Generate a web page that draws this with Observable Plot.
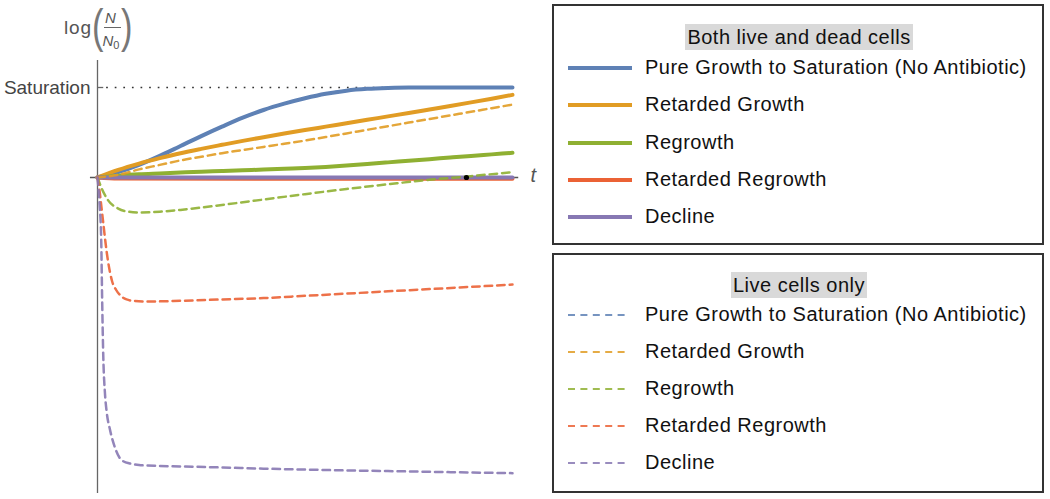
<!DOCTYPE html>
<html><head><meta charset="utf-8">
<script src="https://cdn.jsdelivr.net/npm/d3@7"></script>
<script src="https://cdn.jsdelivr.net/npm/@observablehq/plot@0.6"></script>
<style>
body{margin:0;background:#fff;font-family:"Liberation Sans",Arial,sans-serif;}
#wrap{position:relative;width:1050px;height:499px;overflow:hidden;background:#fff;}
#chart{position:absolute;left:0;top:0;}
.box{position:absolute;left:552px;width:492px;box-sizing:border-box;border:2px solid #333;}
.ttl{position:absolute;left:599px;width:400px;text-align:center;font-size:20px;letter-spacing:0.5px;color:#111;}
.ttl span{display:inline-block;background:#d9d9d9;line-height:26px;padding:0 2px;}
.row{position:absolute;left:560px;width:480px;height:24px;}
.row .lab{position:absolute;left:85px;top:0;font-size:20px;line-height:24px;letter-spacing:0.5px;color:#111;white-space:nowrap;}
.row svg{position:absolute;left:8px;top:0;}
.ylab{position:absolute;color:#555;line-height:1;white-space:nowrap;}
</style>
</head><body>
<div id="wrap">
  <div id="chart"></div>
</div>
<script>
// ---------------- data ----------------
const seriesNames = ["Pure Growth to Saturation (No Antibiotic)", "Retarded Growth", "Regrowth", "Retarded Regrowth", "Decline"];
const seriesColors = ["#5E81B5", "#E19C24", "#8FB032", "#EB6235", "#8778B3"];
const legendTitles = ["Both live and dead cells", "Live cells only"];

// time grid for growth curves
const tGrowth = [0,0.5,1,1.5,2,2.5,3,3.5,4,4.5,5,5.5,6,6.5,7,7.5,8,8.5,9,9.5,10];

// Both live and dead cells (solid)
const pureGrowthAll     = [0,0.06,0.14,0.24,0.35,0.46,0.565,0.665,0.75,0.82,0.88,0.93,0.965,0.985,0.995,1,1,1,1,1,1];
const retardedGrowthAll = [0,0.085,0.155,0.215,0.27,0.318,0.363,0.407,0.448,0.488,0.527,0.565,0.603,0.641,0.679,0.717,0.756,0.795,0.835,0.876,0.918];
const regrowthAll       = [0,0.02,0.035,0.045,0.055,0.065,0.072,0.08,0.088,0.097,0.106,0.118,0.133,0.15,0.168,0.186,0.204,0.222,0.24,0.257,0.274];
const tFlat = [0, 0.5, 10];
const retardedRegrowthAll = [0, -0.012, -0.014];
const declineAll          = [0, 0, 0];

// Live cells only (dashed)
const pureGrowthLive     = [0,0.06,0.14,0.24,0.35,0.46,0.565,0.665,0.75,0.82,0.88,0.93,0.965,0.985,0.995,1,1,1,1,1,1];
const retardedGrowthLive = [0,0.03,0.09,0.14,0.19,0.23,0.27,0.305,0.34,0.375,0.41,0.45,0.49,0.53,0.57,0.61,0.65,0.69,0.73,0.77,0.81];
const tRegrowthLive = [0,0.1,0.25,0.5,0.75,1,1.5,2,3,4,5,6,7,8,9,10];
const regrowthLive  = [0,-0.12,-0.25,-0.345,-0.38,-0.388,-0.38,-0.36,-0.305,-0.245,-0.185,-0.128,-0.075,-0.025,0.015,0.06];
const tRetRegrowthLive = [0,0.05,0.1,0.15,0.2,0.25,0.3,0.35,0.45,0.55,0.7,0.9,1.2,2,3,4,5,6,7,8,9,10];
const retardedRegrowthLive = [0,-0.15,-0.35,-0.55,-0.75,-0.92,-1.05,-1.15,-1.25,-1.31,-1.355,-1.372,-1.378,-1.37,-1.355,-1.34,-1.315,-1.29,-1.265,-1.24,-1.215,-1.19];
const tDeclineLive = [0,0.05,0.09,0.11,0.14,0.18,0.22,0.3,0.42,0.58,0.8,1,1.5,2,3,4,5,6,7,8,9,10];
const declineLive  = [0,-0.3,-0.7,-1.3,-2.0,-2.4,-2.6,-2.8,-3.0,-3.14,-3.18,-3.195,-3.205,-3.21,-3.222,-3.235,-3.245,-3.255,-3.262,-3.27,-3.278,-3.285];

// annotations
const saturationLevel = 1;
const markerPoint = [{t: 8.89, y: 0}];
const tLabel = [{t: 10.5, y: 0, text: "t"}];
const xAxisExtent = [-0.17, 10.15];
const yAxisExtent = [-3.51, 1.3];

// ---------------- build ----------------
const toRows = (ts, ys) => ts.map((t, i) => ({t, y: ys[i]}));
const solidSets = [
  toRows(tGrowth, pureGrowthAll),
  toRows(tGrowth, retardedGrowthAll),
  toRows(tGrowth, regrowthAll),
  toRows(tFlat, retardedRegrowthAll),
  toRows(tFlat, declineAll)
];
const dashedSets = [
  toRows(tGrowth, pureGrowthLive),
  toRows(tGrowth, retardedGrowthLive),
  toRows(tRegrowthLive, regrowthLive),
  toRows(tRetRegrowthLive, retardedRegrowthLive),
  toRows(tDeclineLive, declineLive)
];
const DASH = "7.5,5";

const marks = [
  Plot.ruleY([0], {x1: xAxisExtent[0], x2: xAxisExtent[1], stroke: "#555", strokeWidth: 1.3}),
  Plot.ruleX([0], {y1: yAxisExtent[0], y2: yAxisExtent[1], stroke: "#666", strokeWidth: 1.3}),
  Plot.ruleY([saturationLevel], {x1: 0, x2: 0.15, stroke: "#666", strokeWidth: 1.3}),
  Plot.ruleY([saturationLevel], {x1: 0.22, x2: 10, stroke: "#333", strokeWidth: 1.7, strokeDasharray: "1.7,6.9"}),
  Plot.text([saturationLevel], {x: 0, y: d => d, text: () => "Saturation", textAnchor: "end", dx: -7, fontSize: 19, fill: "#444"}),
  // hidden live-cell pure growth first (under the solid)
  Plot.line(dashedSets[0], {x: "t", y: "y", stroke: seriesColors[0], strokeWidth: 2.5, strokeDasharray: DASH, curve: "monotone-x"})
];
solidSets.forEach((d, i) => marks.push(
  Plot.line(d, {x: "t", y: "y", stroke: seriesColors[i], strokeWidth: 4, curve: "monotone-x"})
));
dashedSets.slice(1).forEach((d, i) => marks.push(
  Plot.line(d, {x: "t", y: "y", stroke: seriesColors[i + 1], strokeWidth: 2.5, strokeDasharray: DASH, curve: "monotone-x", strokeOpacity: 0.9})
));
marks.push(
  Plot.dot(markerPoint, {x: "t", y: "y", r: 2.6, fill: "#000", stroke: null}),
  Plot.text(tLabel, {x: "t", y: "y", text: "text", fontSize: 20, fontStyle: "italic", fill: "#555", dy: -2})
);

const chart = Plot.plot({
  width: 550, height: 499,
  marginLeft: 97, marginRight: 38, marginTop: 87, marginBottom: 7,
  x: {domain: [0, 10], axis: null},
  y: {domain: [-3.5, 1], axis: null},
  style: {fontFamily: "Liberation Sans, Arial, sans-serif", fontSize: "19px", color: "#444", background: "transparent", overflow: "visible"},
  marks
});
document.getElementById("chart").appendChild(chart);

// ---------------- y label: log(N/N0) ----------------
const wrap = document.getElementById("wrap");
function addLab(html, left, top, style) {
  const s = document.createElement("span");
  s.className = "ylab";
  s.innerHTML = html;
  s.style.left = left + "px"; s.style.top = top + "px";
  Object.assign(s.style, style || {});
  wrap.appendChild(s);
}
addLab("log", 64, 18, {fontSize: "19px", letterSpacing: "0.8px"});
addLab("(", 92, 3, {fontSize: "46px", color: "#777", transform: "scaleX(0.75)", transformOrigin: "left top"});
addLab(")", 121, 3, {fontSize: "46px", color: "#777", transform: "scaleX(0.75)", transformOrigin: "left top"});
addLab("N", 105, 10, {fontSize: "15px", fontStyle: "italic"});
addLab("", 103.5, 26.5, {width: "17px", height: "0", borderTop: "1px solid #666"});
addLab("N<span style='font-size:11px;font-style:normal;position:relative;top:3px'>0</span>", 102.5, 33, {fontSize: "15px", fontStyle: "italic"});

// ---------------- legends ----------------
const boxTops = [[4, 241], [253, 240]];
const titleTops = [24, 272];
const rowStarts = [68.3, 315];
const ROWSTEP = 37.1;
boxTops.forEach(([top, h], b) => {
  const box = document.createElement("div");
  box.className = "box";
  box.style.top = top + "px"; box.style.height = h + "px";
  wrap.appendChild(box);
  const t = document.createElement("div");
  t.className = "ttl";
  t.style.top = titleTops[b] + "px";
  t.innerHTML = "<span>" + legendTitles[b] + "</span>";
  wrap.appendChild(t);
  seriesNames.forEach((name, i) => {
    const lineY = rowStarts[b] + i * ROWSTEP;
    const row = document.createElement("div");
    row.className = "row";
    row.style.top = (lineY - 13) + "px";
    const col = seriesColors[i];
    const sample = b === 0
      ? `<svg width="66" height="26"><line x1="0" x2="64" y1="13" y2="13" stroke="${col}" stroke-width="4"/></svg>`
      : `<svg width="66" height="26"><line x1="0" x2="62" y1="13" y2="13" stroke="${col}" stroke-width="2" stroke-opacity="0.85" stroke-dasharray="7,5.4"/></svg>`;
    row.innerHTML = sample + `<span class="lab">${name}</span>`;
    wrap.appendChild(row);
  });
});
</script>
</body></html>
